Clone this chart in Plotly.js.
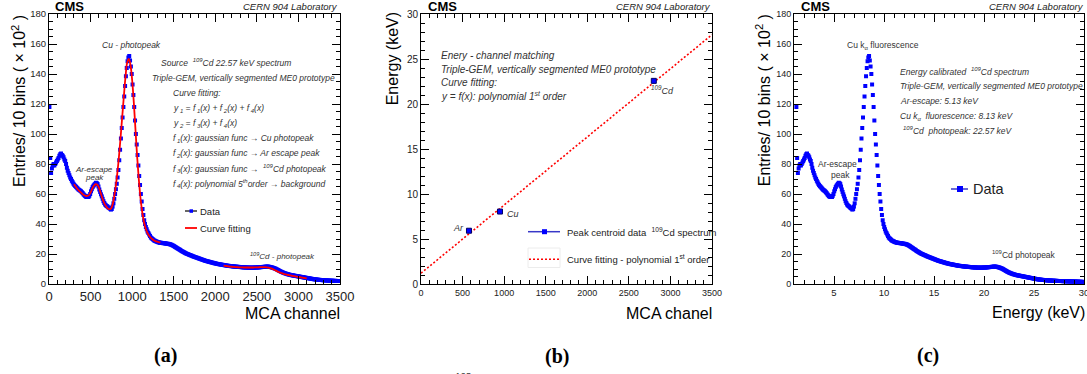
<!DOCTYPE html>
<html>
<head>
<meta charset="utf-8">
<script src="https://cdn.plot.ly/plotly-3.0.1.min.js"></script>
<style>html,body{margin:0;padding:0;background:#fff;}#plot{width:1087px;height:374px;}</style>
</head>
<body>
<div id="plot"></div>
<script>
// ---------------- DATA ----------------
// MCA spectrum: entries (x 10^2) per 10-channel bin; first bin centre at channel 5
const binStart = 5;
const binWidth = 10;
const counts = [
  118, 84, 74, 77, 79, 80, 79, 80, 81, 82,
  83, 84, 85.5, 86.5, 87, 86, 85.5, 84.5, 83, 82,
  80, 77.5, 75.5, 74, 72.5, 71, 70, 68.8, 67.8, 66.8,
  66, 65.3, 64.8, 64.2, 63.6, 63, 62.6, 62.2, 61.8, 61.2,
  60.6, 59.8, 59.2, 58.6, 58.2, 58, 58.3, 58, 58.8, 60,
  61.8, 63.2, 64.6, 65.5, 66.2, 66.8, 67.5, 67.2, 66.6, 65,
  63, 61.4, 59.8, 58.4, 56.8, 55.2, 54, 53, 52.4, 52,
  51.5, 51, 50.6, 50.2, 49.6, 50, 51.6, 53.8, 56.8, 60,
  63.2, 66.8, 71, 76, 82.5, 89.5, 97, 104, 111, 118,
  125, 132, 138.5, 144, 148.5, 151, 152, 149, 145, 140,
  133, 126, 118, 109, 100, 93, 86, 79, 72, 66,
  60, 55, 50, 46, 42.5, 40, 38, 36.5, 35, 34,
  33, 32, 31, 30.5, 30, 29.5, 29, 28.8, 28.5, 28.3,
  28, 27.8, 27.7, 27.5, 27.5, 27.4, 27.3, 27.2, 27.2, 27.1,
  27, 26.9, 26.8, 26.8, 26.6, 26.5, 26.3, 26.1, 25.8, 25.5,
  25.2, 24.8, 24.5, 24.1, 23.8, 23.4, 23.1, 22.8, 22.4, 22,
  21.7, 21.4, 21.1, 20.8, 20.5, 20.2, 20, 19.8, 19.5, 19.3,
  19.1, 18.9, 18.6, 18.4, 18.2, 18, 17.8, 17.6, 17.4, 17.2,
  17, 16.8, 16.6, 16.4, 16.2, 16, 15.8, 15.6, 15.4, 15.3,
  15.1, 15, 14.8, 14.7, 14.5, 14.4, 14.2, 14.1, 13.9, 13.8,
  13.7, 13.5, 13.4, 13.3, 13.2, 13.1, 13, 12.9, 12.8, 12.7,
  12.6, 12.5, 12.4, 12.3, 12.2, 12.1, 12.1, 12, 11.9, 11.9,
  11.8, 11.7, 11.7, 11.6, 11.6, 11.5, 11.5, 11.4, 11.4, 11.3,
  11.3, 11.2, 11.2, 11.1, 11.1, 11.1, 11, 11, 11, 10.9,
  10.9, 10.9, 10.9, 10.9, 10.9, 10.9, 10.9, 11, 11, 11,
  11, 11.1, 11.1, 11.2, 11.2, 11.3, 11.3, 11.4, 11.4, 11.5,
  11.5, 11.6, 11.6, 11.6, 11.5, 11.4, 11.3, 11.1, 11, 10.8,
  10.6, 10.4, 10.2, 9.9, 9.6, 9.3, 9, 8.7, 8.4, 8.1,
  7.9, 7.6, 7.4, 7.2, 7, 6.8, 6.6, 6.5, 6.3, 6.2,
  6, 5.9, 5.8, 5.7, 5.6, 5.5, 5.4, 5.3, 5.2, 5.1,
  5, 4.9, 4.8, 4.7, 4.6, 4.5, 4.4, 4.3, 4.2, 4.1,
  4, 3.9, 3.8, 3.7, 3.6, 3.5, 3.4, 3.3, 3.2, 3.1,
  3.05, 3, 2.9, 2.85, 2.8, 2.75, 2.7, 2.65, 2.6, 2.55,
  2.5, 2.45, 2.4, 2.4, 2.35, 2.3, 2.3, 2.25, 2.2, 2.2,
  2.2, 2.15, 2.1, 2.1, 2.1, 2.05, 2, 2, 2, 2,
  1.95, 1.95, 1.9, 1.9, 1.9, 1.85, 1.85, 1.8, 1.8, 1.8,
  1.8, 1.75, 1.75, 1.7, 1.7, 1.7, 1.65, 1.65, 1.6, 1.6,
  1.6, 1.55, 1.55, 1.5, 1.5, 1.5, 1.45, 1.45, 1.4, 1.4,
  1.35, 1.3
];

// Curve fitting y1 = f1+f2+f4 (channels 300..1340, step 20)
const fit1Start = 300;
const fit1Step = 20;
const fit1 = [
  66.5, 65, 63.5, 62.3, 61.2, 60.2, 59.3, 58.8, 58.7, 59.3,
  61, 63.5, 65.5, 66.5, 66.2, 64.3, 61, 57.5, 54.5, 52.3,
  50.8, 50, 50, 52, 57, 64, 73, 84, 97, 111,
  125, 138, 147.5, 150, 146, 136, 121, 103, 85, 70,
  57.5, 48.5, 42, 37.5, 34.5, 32.5, 31, 30, 29.2, 28.6,
  28.2, 27.9, 27.7
];
// Curve fitting y2 = f3+f4 (channels 2100..3100, step 20)
const fit2Start = 2100;
const fit2Step = 20;
const fit2 = [
  12.3, 12.1, 11.9, 11.7, 11.6, 11.5, 11.4, 11.3, 11.2, 11.15,
  11.1, 11.05, 11, 11, 11, 11, 11, 11, 11, 11.05,
  11.1, 11.15, 11.2, 11.2, 11.2, 11.2, 11.1, 10.9, 10.6, 10.2,
  9.7, 9.2, 8.6, 8.1, 7.6, 7.2, 6.8, 6.5, 6.2, 6,
  5.7, 5.5, 5.3, 5.1, 4.9, 4.7, 4.5, 4.3, 4.1, 3.9,
  3.7
];

// Energy - channel matching (panel b)
const peakNames = ['Ar', 'Cu', '109Cd'];
const peakCh = [577, 950, 2800];
const peakE = [5.92, 8.05, 22.57];
const fitCh = [0, 3500];
const fitE = [1.2, 27.7];

// ---------------- LAYOUT HELPERS ----------------
const W = 1087, H = 374;
const FONT = 'Liberation Sans, Arial, Helvetica, sans-serif';
const SERIF = 'Liberation Serif, Times New Roman, serif';
const px = x => x / W;
const py = y => 1 - y / H;

function T(x, y, text, size, o) {
  o = o || {};
  return {
    xref: 'paper', yref: 'paper', x: px(x), y: py(y), text: text,
    showarrow: false, xanchor: o.xa || 'left', yanchor: 'middle',
    textangle: o.angle || 0,
    font: {family: o.family || FONT, size: size, color: o.color || '#222'},
    borderpad: 0, borderwidth: 0
  };
}
const it = s => '<i>' + s + '</i>';

// calibration from the linear fit
const slope = (fitE[1] - fitE[0]) / (fitCh[1] - fitCh[0]);
const intercept = fitE[0] - slope * fitCh[0];

const blue = '#0000ff';
const traces = [
  {type: 'scatter', mode: 'markers', x0: binStart, dx: binWidth, y: counts,
   xaxis: 'x', yaxis: 'y', marker: {symbol: 'square', size: 4, color: blue, line: {width: 0}},
   showlegend: false, cliponaxis: true},
  {type: 'scatter', mode: 'lines', x0: fit1Start, dx: fit1Step, y: fit1,
   xaxis: 'x', yaxis: 'y', line: {color: '#ff0000', width: 1.8, shape: 'spline'}, showlegend: false},
  {type: 'scatter', mode: 'lines', x0: fit2Start, dx: fit2Step, y: fit2,
   xaxis: 'x', yaxis: 'y', line: {color: '#ff0000', width: 1.8, shape: 'spline'}, showlegend: false},
  {type: 'scatter', mode: 'lines', x: fitCh, y: fitE, xaxis: 'x2', yaxis: 'y2',
   line: {color: '#ff0000', width: 1.6, dash: '2px,2px'}, showlegend: false},
  {type: 'scatter', mode: 'markers', x: peakCh, y: peakE, xaxis: 'x2', yaxis: 'y2',
   marker: {symbol: 'square', size: 5, color: blue, line: {width: 1, color: '#000066'}}, showlegend: false},
  {type: 'scatter', mode: 'markers', x0: intercept + slope * binStart, dx: slope * binWidth, y: counts,
   xaxis: 'x3', yaxis: 'y3', marker: {symbol: 'square', size: 4, color: blue, line: {width: 0}},
   showlegend: false, cliponaxis: true}
];

function axis(domain, range, dtick, minor, fsize, extra) {
  return Object.assign({
    domain: domain, range: range, dtick: dtick, tick0: 0,
    ticks: 'inside', ticklen: 8, tickwidth: 1, tickcolor: '#000',
    minor: {dtick: minor, ticks: 'inside', ticklen: 4, tickwidth: 1, tickcolor: '#000'},
    showline: true, linecolor: '#000', linewidth: 1, mirror: 'ticks',
    showgrid: false, zeroline: false, fixedrange: true,
    ticklabeloverflow: 'allow',
    tickfont: {family: FONT, size: fsize, color: '#222'}
  }, extra || {});
}
const yDom = [py(284), py(14)];

const layout = {
  width: W, height: H, margin: {l: 0, r: 0, t: 0, b: 0},
  paper_bgcolor: '#fff', plot_bgcolor: '#fff', showlegend: false,
  xaxis: axis([px(49), px(340)], [0, 3500], 500, 100, 13, {anchor: 'y'}),
  yaxis: axis(yDom, [0, 180], 20, 5, 9.5, {anchor: 'x'}),
  xaxis2: axis([px(421), px(712)], [0, 3500], 500, 100, 9, {anchor: 'y2'}),
  yaxis2: axis(yDom, [0, 30], 5, 1, 10, {anchor: 'x2'}),
  xaxis3: axis([px(794), px(1084)], [1, 30], 5, 1, 9.5, {anchor: 'y3'}),
  yaxis3: axis(yDom, [0, 180], 20, 5, 9, {anchor: 'x3'}),
  shapes: [
    // legend (a)
    {type: 'line', xref: 'paper', yref: 'paper', x0: px(185), x1: px(197), y0: py(211), y1: py(211), line: {color: '#333', width: 1.5}},
    {type: 'rect', xref: 'paper', yref: 'paper', x0: px(189.5), x1: px(193), y0: py(209.3), y1: py(212.8), fillcolor: blue, line: {width: 0}},
    {type: 'line', xref: 'paper', yref: 'paper', x0: px(185), x1: px(197), y0: py(228), y1: py(228), line: {color: '#ff0000', width: 1.8}},
    // legend (b)
    {type: 'line', xref: 'paper', yref: 'paper', x0: px(528), x1: px(560), y0: py(231.7), y1: py(231.7), line: {color: '#3838c8', width: 1.5}},
    {type: 'rect', xref: 'paper', yref: 'paper', x0: px(542), x1: px(547), y0: py(229.2), y1: py(234.2), fillcolor: blue, line: {width: 0}},
    {type: 'rect', xref: 'paper', yref: 'paper', x0: px(528), x1: px(560), y0: py(248), y1: py(267.5), line: {color: '#ececec', width: 1}},
    {type: 'line', xref: 'paper', yref: 'paper', x0: px(529), x1: px(559), y0: py(259.3), y1: py(259.3), line: {color: '#ff0000', width: 1.6, dash: '2px,2px'}},
    // legend (c)
    {type: 'line', xref: 'paper', yref: 'paper', x0: px(951), x1: px(968), y0: py(189), y1: py(189), line: {color: '#3838c8', width: 1.5}},
    {type: 'rect', xref: 'paper', yref: 'paper', x0: px(957), x1: px(963), y0: py(186), y1: py(192), fillcolor: blue, line: {width: 0}}
  ],
  annotations: [
    // ----- panel (a)
    T(55, 6.5, '<b>CMS</b>', 13, {color: '#000'}),
    T(338, 7, it('CERN 904 Laboratory'), 9.5, {xa: 'right'}),
    T(131.7, 44.7, it('Cu - photopeak'), 8.5, {xa: 'center', color: '#333'}),
    T(161, 62.7, it('Source  <sup>109</sup>Cd 22.57 keV spectrum'), 8.5, {color: '#333'}),
    T(151.7, 78.3, it('Triple-GEM, vertically segmented ME0 prototype'), 8.5, {color: '#333'}),
    T(173, 93.3, it('Curve fitting:'), 8.5, {color: '#333'}),
    T(173, 108.3, it('y<sub> 1</sub> = f<sub> 1</sub>(x) + f<sub> 2</sub>(x) + f<sub> 4</sub>(x)'), 8.5, {color: '#333'}),
    T(173, 123.3, it('y<sub> 2</sub> = f<sub> 3</sub>(x) + f<sub> 4</sub>(x)'), 8.5, {color: '#333'}),
    T(173, 138.3, it('f<sub> 1</sub>(x): gaussian func → Cu photopeak'), 8.5, {color: '#333'}),
    T(173, 153.3, it('f<sub> 2</sub>(x): gaussian func → Ar escape peak'), 8.5, {color: '#333'}),
    T(173, 168.3, it('f<sub> 3</sub>(x): gaussian func →  <sup>109</sup>Cd photopeak'), 8.5, {color: '#333'}),
    T(173, 183.3, it('f<sub> 4</sub>(x): polynomial 5<sup>th</sup>order → background'), 8.5, {color: '#333'}),
    T(94, 169, it('Ar-escape'), 8, {xa: 'center', color: '#333'}),
    T(94, 177, it('peak'), 8, {xa: 'center', color: '#333'}),
    T(282, 256, it('<sup>109</sup>Cd - photopeak'), 8, {xa: 'center', color: '#333'}),
    T(200, 211, 'Data', 9.5),
    T(200, 228, 'Curve fitting', 9.5),
    T(18.3, 100.7, 'Entries/ 10 bins ( × 10<sup>2</sup> )', 16, {xa: 'center', angle: -90, color: '#000'}),
    T(340, 313, 'MCA channel', 16, {xa: 'right', color: '#000'}),
    T(165, 355, '<b>(a)</b>', 20, {xa: 'center', family: SERIF, color: '#000'}),
    // ----- panel (b)
    T(428, 6.5, '<b>CMS</b>', 13, {color: '#000'}),
    T(711, 7, it('CERN 904 Laboratory'), 9.5, {xa: 'right'}),
    T(441, 55.7, it('Enery - channel matching'), 10, {color: '#333'}),
    T(441, 69.3, it('Triple-GEM, vertically segmented ME0 prototype'), 10, {color: '#333'}),
    T(441, 82.3, it('Curve fitting:'), 10, {color: '#333'}),
    T(441, 96, it('y = f(x): polynomial 1<sup>st</sup> order'), 10, {color: '#333'}),
    T(458, 228.3, it(peakNames[0]), 9, {xa: 'center', color: '#333'}),
    T(513, 214.3, it(peakNames[1]), 9, {xa: 'center', color: '#333'}),
    T(662, 90, it('<sup>109</sup>Cd'), 9, {xa: 'center', color: '#333'}),
    T(567, 231.7, 'Peak centroid data  <sup>109</sup>Cd spectrum', 9.5),
    T(567, 259.3, 'Curve fitting - polynomial 1<sup>st</sup> order', 9.5),
    T(393.3, 59, 'Energy (keV)', 16, {xa: 'center', angle: -90, color: '#000'}),
    T(712, 313, 'MCA chanel', 16, {xa: 'right', color: '#000'}),
    T(557, 356, '<b>(b)</b>', 20, {xa: 'center', family: SERIF, color: '#000'}),
    // ----- panel (c)
    T(801, 6.5, '<b>CMS</b>', 13, {color: '#000'}),
    T(1084, 7, it('CERN 904 Laboratory'), 9.5, {xa: 'right'}),
    T(882.8, 45, 'Cu k<sub>α</sub> fluorescence', 8.5, {xa: 'center', color: '#333'}),
    T(900, 71, it('Energy calibrated  <sup>109</sup>Cd spectrum'), 8.5, {color: '#333'}),
    T(900, 86, it('Triple-GEM, vertically segmented ME0 prototype'), 8.5, {color: '#333'}),
    T(900, 100.7, it('Ar-escape: 5.13 keV'), 8.5, {color: '#333'}),
    T(900, 116, it('Cu k<sub>α</sub>  fluorescence: 8.13 keV'), 8.5, {color: '#333'}),
    T(903, 130, it('<sup>109</sup>Cd  photopeak: 22.57 keV'), 8.5, {color: '#333'}),
    T(837, 164.3, 'Ar-escape', 8.5, {xa: 'center', color: '#333'}),
    T(840.8, 175, 'peak', 8.5, {xa: 'center', color: '#333'}),
    T(991.7, 255, '<sup>109</sup>Cd photopeak', 8.5, {color: '#333'}),
    T(973, 189, 'Data', 14.5),
    T(762.5, 100.7, 'Entries/ 10 bins ( × 10<sup>2</sup> )', 16, {xa: 'center', angle: -90, color: '#000'}),
    T(1085, 312.3, 'Energy (keV)', 16, {xa: 'right', color: '#000'}),
    T(928, 355, '<b>(c)</b>', 20, {xa: 'center', family: SERIF, color: '#000'}),
    // cut-off caption superscript at the bottom edge
    T(463, 376.5, '109', 11, {xa: 'center', family: SERIF, color: '#000'})
  ]
};

Plotly.newPlot('plot', traces, layout, {displayModeBar: false, staticPlot: true});
</script>
</body>
</html>
